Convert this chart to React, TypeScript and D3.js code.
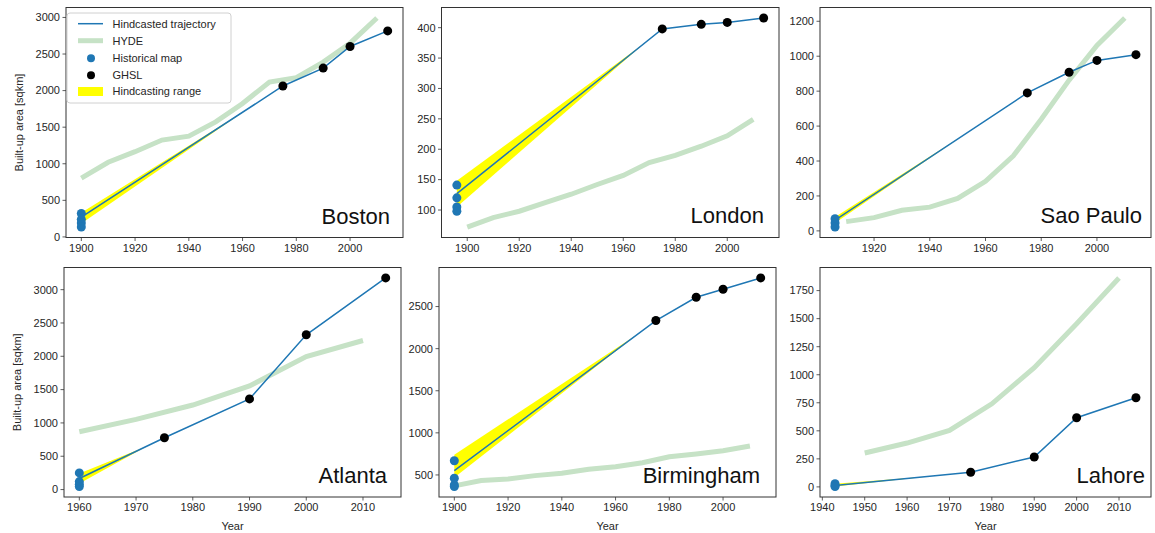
import React from "react";
import * as d3 from "d3";

// ---------- data ----------
const ghslYears = [1975, 1990, 2000, 2014];
const hydeDecades = [1900, 1910, 1920, 1930, 1940, 1950, 1960, 1970, 1980, 1990, 2000, 2010];

const bostonHistYear = 1900;
const bostonHist = [320, 240, 190, 135];
const bostonStart = 270;
const bostonRange = [185, 330];
const bostonRangeEnd = 1962;
const bostonGhsl = [2063, 2308, 2603, 2816];
const bostonHydeYears = hydeDecades;
const bostonHyde = [803, 1020, 1165, 1324, 1378, 1573, 1823, 2117, 2177, 2390, 2648, 2993];

const londonHistYear = 1896;
const londonHist = [141, 120, 105, 98];
const londonStart = 127;
const londonRange = [105, 148];
const londonRangeEnd = 1968;
const londonGhsl = [398, 405.5, 408.7, 416];
const londonHydeYears = hydeDecades;
const londonHyde = [72, 87.5, 98, 112, 126, 142, 157, 178, 190, 205, 222, 249];

const saoPauloHistYear = 1906;
const saoPauloHist = [70, 45, 22];
const saoPauloStart = 62;
const saoPauloRange = [45, 80];
const saoPauloRangeEnd = 1952;
const saoPauloGhsl = [790, 908, 976, 1009];
const saoPauloHydeYears = [1910, 1920, 1930, 1940, 1950, 1960, 1970, 1980, 1990, 2000, 2010];
const saoPauloHyde = [53, 76, 118, 136, 186, 284, 430, 639, 863, 1062, 1219];

const atlantaHistYear = 1960;
const atlantaHist = [250, 120, 80, 45];
const atlantaStart = 166;
const atlantaRange = [90, 240];
const atlantaRangeEnd = 1972;
const atlantaGhsl = [777, 1360, 2323, 3176];
const atlantaHydeYears = [1960, 1970, 1980, 1990, 2000, 2010];
const atlantaHyde = [867, 1054, 1269, 1555, 1996, 2237];

const birminghamHistYear = 1900;
const birminghamHist = [669, 461, 380, 362];
const birminghamStart = 551;
const birminghamRange = [470, 740];
const birminghamRangeEnd = 1968;
const birminghamGhsl = [2334, 2610, 2705, 2840];
const birminghamHydeYears = hydeDecades;
const birminghamHyde = [370, 433, 453, 492, 520, 567, 598, 645, 716, 748, 787, 843];

const lahoreHistYear = 1943;
const lahoreHist = [28, 12, 3];
const lahoreStart = 12;
const lahoreRange = [3, 28];
const lahoreRangeEnd = 1965;
const lahoreGhsl = [131, 267, 617, 795];
const lahoreHydeYears = [1950, 1960, 1970, 1980, 1990, 2000, 2010];
const lahoreHyde = [302, 391, 504, 741, 1062, 1454, 1863];

const bostonYTicks = [0, 500, 1000, 1500, 2000, 2500, 3000];
const londonYTicks = [100, 150, 200, 250, 300, 350, 400];
const saoPauloYTicks = [0, 200, 400, 600, 800, 1000, 1200];
const atlantaYTicks = [0, 500, 1000, 1500, 2000, 2500, 3000];
const birminghamYTicks = [500, 1000, 1500, 2000, 2500];
const lahoreYTicks = [0, 250, 500, 750, 1000, 1250, 1500, 1750];

const xTicks20 = [1900, 1920, 1940, 1960, 1980, 2000];
const saoPauloXTicks = [1920, 1940, 1960, 1980, 2000];
const atlantaXTicks = [1960, 1970, 1980, 1990, 2000, 2010];
const lahoreXTicks = [1940, 1950, 1960, 1970, 1980, 1990, 2000, 2010];

const legendLabels = ["Hindcasted trajectory", "HYDE", "Historical map", "GHSL", "Hindcasting range"];

// ---------- panels ----------
type City = {
  name: string;
  histYear: number;
  hist: number[];
  start: number;
  range: number[];
  rangeEnd: number;
  ghsl: number[];
  hydeYears: number[];
  hyde: number[];
  yTicks: number[];
  xTicks: number[];
};

const cities: City[] = [
  { name: "Boston", histYear: bostonHistYear, hist: bostonHist, start: bostonStart, range: bostonRange, rangeEnd: bostonRangeEnd, ghsl: bostonGhsl, hydeYears: bostonHydeYears, hyde: bostonHyde, yTicks: bostonYTicks, xTicks: xTicks20 },
  { name: "London", histYear: londonHistYear, hist: londonHist, start: londonStart, range: londonRange, rangeEnd: londonRangeEnd, ghsl: londonGhsl, hydeYears: londonHydeYears, hyde: londonHyde, yTicks: londonYTicks, xTicks: xTicks20 },
  { name: "Sao Paulo", histYear: saoPauloHistYear, hist: saoPauloHist, start: saoPauloStart, range: saoPauloRange, rangeEnd: saoPauloRangeEnd, ghsl: saoPauloGhsl, hydeYears: saoPauloHydeYears, hyde: saoPauloHyde, yTicks: saoPauloYTicks, xTicks: saoPauloXTicks },
  { name: "Atlanta", histYear: atlantaHistYear, hist: atlantaHist, start: atlantaStart, range: atlantaRange, rangeEnd: atlantaRangeEnd, ghsl: atlantaGhsl, hydeYears: atlantaHydeYears, hyde: atlantaHyde, yTicks: atlantaYTicks, xTicks: atlantaXTicks },
  { name: "Birmingham", histYear: birminghamHistYear, hist: birminghamHist, start: birminghamStart, range: birminghamRange, rangeEnd: birminghamRangeEnd, ghsl: birminghamGhsl, hydeYears: birminghamHydeYears, hyde: birminghamHyde, yTicks: birminghamYTicks, xTicks: xTicks20 },
  { name: "Lahore", histYear: lahoreHistYear, hist: lahoreHist, start: lahoreStart, range: lahoreRange, rangeEnd: lahoreRangeEnd, ghsl: lahoreGhsl, hydeYears: lahoreHydeYears, hyde: lahoreHyde, yTicks: lahoreYTicks, xTicks: lahoreXTicks },
];

// layout (pixel boxes of each axes)
const boxes = [
  { l: 66, r: 403, t: 7.5, b: 237.5, lx: 13, ly: 13.5 },
  { l: 441.5, r: 779, t: 7.5, b: 237.5, lx: 15, ly: 14.5 },
  { l: 820, r: 1151, t: 7.5, b: 237.5, lx: 9, ly: 14.5 },
  { l: 64, r: 401, t: 267.5, b: 497, lx: 14, ly: 14.5 },
  { l: 439, r: 776, t: 267.5, b: 497, lx: 16, ly: 14.5 },
  { l: 820, r: 1151, t: 267.5, b: 497, lx: 6, ly: 14.5 },
];

const FONT = "'Liberation Sans', Arial, Helvetica, sans-serif";
const BLUE = "#1f77b4";
const HYDE_COLOR = "#c6e2c6";
const YELLOW = "#ffff00";
const AXIS = "#333333";

function pad(ext: [number, number]): [number, number] {
  const d = (ext[1] - ext[0]) * 0.05;
  return [ext[0] - d, ext[1] + d];
}

function Panel({ c, box, idx }: { c: City; box: typeof boxes[0]; idx: number }) {
  const allYears = [c.histYear, ...ghslYears, ...c.hydeYears];
  const allVals = [...c.hist, ...c.ghsl, ...c.hyde, c.start, ...c.range];
  const x = d3.scaleLinear().domain(pad(d3.extent(allYears) as [number, number])).range([box.l, box.r]);
  const y = d3.scaleLinear().domain(pad(d3.extent(allVals) as [number, number])).range([box.b, box.t]);

  const trajYears = [c.histYear, ...ghslYears];
  const trajVals = [c.start, ...c.ghsl];
  const line = d3.line<number>().x((_, i) => x(trajYears[i])).y((v) => y(v));
  const hydeLine = d3.line<number>().x((_, i) => x(c.hydeYears[i])).y((v) => y(v));
  // value of the hindcast trajectory at the year where the range closes
  const onTraj = d3.scaleLinear().domain([c.histYear, ghslYears[0]]).range([c.start, c.ghsl[0]]);
  const endVal = onTraj(c.rangeEnd);
  const area = d3
    .area<number>()
    .x((yr) => x(yr))
    .y0((yr, i) => y(i === 0 ? c.range[0] : endVal))
    .y1((yr, i) => y(i === 0 ? c.range[1] : endVal));
  const clipId = `clip${idx}`;

  return (
    <g>
      <defs>
        <clipPath id={clipId}>
          <rect x={box.l} y={box.t} width={box.r - box.l} height={box.b - box.t} />
        </clipPath>
      </defs>
      <g clipPath={`url(#${clipId})`}>
        <path d={area([c.histYear, c.rangeEnd]) || ""} fill={YELLOW} />
        <path d={hydeLine(c.hyde) || ""} fill="none" stroke={HYDE_COLOR} strokeWidth={5} />
        <path d={line(trajVals) || ""} fill="none" stroke={BLUE} strokeWidth={1.5} />
        {c.hist.map((v, i) => (
          <circle key={"h" + i} cx={x(c.histYear)} cy={y(v)} r={4.5} fill={BLUE} />
        ))}
        {c.ghsl.map((v, i) => (
          <circle key={"g" + i} cx={x(ghslYears[i])} cy={y(v)} r={4.5} fill="#000" />
        ))}
      </g>
      <rect x={box.l} y={box.t} width={box.r - box.l} height={box.b - box.t} fill="none" stroke={AXIS} strokeWidth={1} />
      {c.yTicks.map((t) => (
        <g key={"y" + t}>
          <line x1={box.l - 3.5} x2={box.l} y1={y(t)} y2={y(t)} stroke={AXIS} strokeWidth={0.8} />
          <text x={box.l - 6} y={y(t)} dy="0.35em" textAnchor="end" fontSize={11} fill="#262626" fontFamily={FONT}>
            {t}
          </text>
        </g>
      ))}
      {c.xTicks.map((t) => (
        <g key={"x" + t}>
          <line x1={x(t)} x2={x(t)} y1={box.b} y2={box.b + 3.5} stroke={AXIS} strokeWidth={0.8} />
          <text x={x(t)} y={box.b + 10.5} dy="0.35em" textAnchor="middle" fontSize={11} fill="#262626" fontFamily={FONT}>
            {t}
          </text>
        </g>
      ))}
      <text x={box.r - box.lx} y={box.b - box.ly} textAnchor="end" fontSize={22} fill="#111" fontFamily={FONT}>
        {c.name}
      </text>
      {idx % 3 === 0 && (
        <text
          transform={`translate(${box.l - 47},${(box.t + box.b) / 2}) rotate(-90)`}
          textAnchor="middle"
          dy="0.35em"
          fontSize={11}
          fill="#262626"
          fontFamily={FONT}
        >
          Built-up area [sqkm]
        </text>
      )}
      {idx >= 3 && (
        <text x={(box.l + box.r) / 2} y={box.b + 29} dy="0.35em" textAnchor="middle" fontSize={11} fill="#262626" fontFamily={FONT}>
          Year
        </text>
      )}
    </g>
  );
}

function Legend() {
  const lx = 67, ly = 13, w = 164, h = 90;
  const rowY = [23.7, 40.7, 58.2, 75.2, 91.5];
  return (
    <g fontFamily={FONT} fontSize={11}>
      <rect x={lx} y={ly} width={w} height={h} rx={3} fill="#fff" fillOpacity={0.85} stroke="#d0d0d0" strokeWidth={1} />
      <line x1={78} x2={103} y1={rowY[0]} y2={rowY[0]} stroke={BLUE} strokeWidth={1.5} />
      <line x1={78} x2={103} y1={rowY[1]} y2={rowY[1]} stroke={HYDE_COLOR} strokeWidth={5} />
      <circle cx={91} cy={rowY[2]} r={4} fill={BLUE} />
      <circle cx={91} cy={rowY[3]} r={4} fill="#000" />
      <rect x={78} y={rowY[4] - 4.5} width={25} height={9} fill={YELLOW} />
      {legendLabels.map((s, i) => (
        <text key={s} x={112.5} y={rowY[i]} dy="0.35em" fill="#262626">
          {s}
        </text>
      ))}
    </g>
  );
}

export default function App() {
  return (
    <svg width={1155} height={533} style={{ position: "absolute", left: 0, top: 0, background: "#fff" }}>
      <rect x={0} y={0} width={1155} height={533} fill="#fff" />
      {cities.map((c, i) => (
        <Panel key={c.name} c={c} box={boxes[i]} idx={i} />
      ))}
      <Legend />
    </svg>
  );
}
